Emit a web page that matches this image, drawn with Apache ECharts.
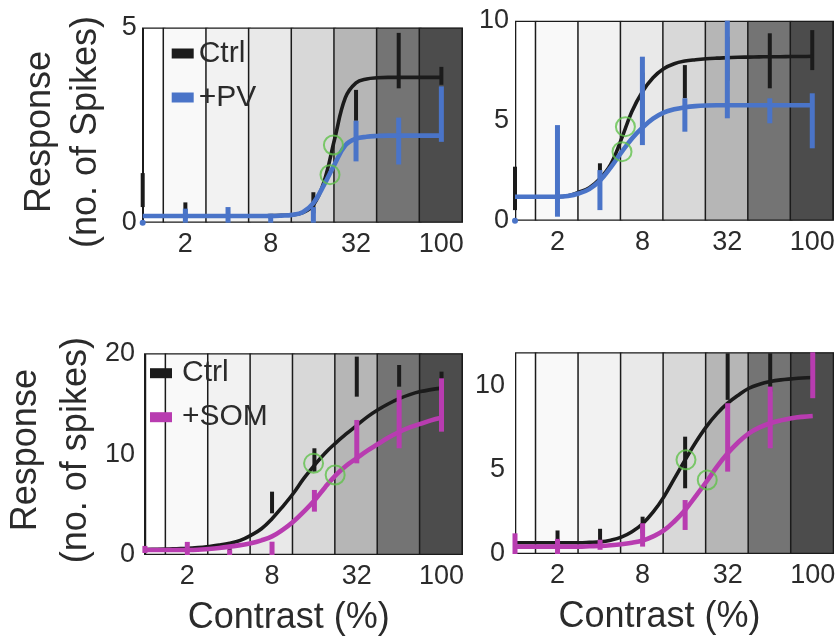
<!DOCTYPE html>
<html>
<head>
<meta charset="utf-8">
<script src="https://cdn.jsdelivr.net/npm/echarts@6/dist/echarts.min.js"></script>
<style>
html,body{margin:0;padding:0;background:#fff;}
#chart{width:840px;height:637px;}
</style>
</head>
<body>
<div id="chart"></div>
<script>
// ---- shared axis data ----
const contrastSteps = [0, 1, 2, 3, 4, 5, 6, 7];        // contrast levels (log2 steps)
const xTickPos = [1, 3, 5, 7];
const xTickText = ['2', '8', '32', '100'];
const fitX = [0, 0.25, 0.5, 0.75, 1, 1.25, 1.5, 1.75, 2, 2.25, 2.5, 2.75, 3, 3.25, 3.5, 3.75,
              4, 4.25, 4.5, 4.75, 5, 5.25, 5.5, 5.75, 6, 6.25, 6.5, 6.75, 7];

// ---- Panel A : Ctrl vs +PV (top-left) ----
const aCtrlFitY = [0.17, 0.17, 0.17, 0.17, 0.17, 0.17, 0.17, 0.17, 0.17, 0.17, 0.17, 0.17, 0.18,
                   0.19, 0.2, 0.26, 0.45, 1.05, 2.15, 3.2, 3.58, 3.68, 3.71, 3.72, 3.72, 3.72, 3.72, 3.72, 3.72];
const aPvFitY = [0.17, 0.17, 0.17, 0.17, 0.17, 0.17, 0.17, 0.17, 0.17, 0.17, 0.17, 0.17, 0.17,
                 0.18, 0.2, 0.27, 0.5, 0.97, 1.5, 1.98, 2.15, 2.2, 2.22, 2.23, 2.23, 2.23, 2.23, 2.23, 2.23];
const aCtrlLo = [0.40, 0.10, 0.10, 0.10, 0.24, 2.61, 3.44, 3.53];
const aCtrlHi = [1.27, 0.52, 0.30, 0.22, 0.78, 3.40, 4.86, 3.99];
const aPvLo = [0, 0, 0, 0, 0, 1.57, 1.49, 2.07];
const aPvHi = [0, 0.36, 0.40, 0.23, 0.40, 2.61, 2.69, 3.49];
const aC50 = [[4.47, 1.99], [4.39, 1.23]];

// ---- Panel B : Ctrl vs +PV (top-right) ----
const bCtrlFitY = [1.2, 1.2, 1.2, 1.2, 1.2, 1.25, 1.42, 1.65, 2.1, 2.8, 4.05, 5.45, 6.45, 7.15, 7.6,
                   7.85, 7.98, 8.05, 8.1, 8.13, 8.15, 8.17, 8.18, 8.19, 8.2, 8.2, 8.21, 8.21, 8.22];
const bPvFitY = [1.2, 1.2, 1.2, 1.2, 1.2, 1.24, 1.36, 1.58, 2.0, 2.65, 3.4, 4.1, 4.65, 5.1, 5.4,
                 5.57, 5.67, 5.73, 5.76, 5.77, 5.77, 5.77, 5.77, 5.77, 5.77, 5.77, 5.77, 5.77, 5.77];
const bCtrlLo = [0.53, 0.9, 1.6, 5.0, 6.12, 7.0, 6.62, 7.53];
const bCtrlHi = [2.70, 1.5, 2.87, 7.4, 7.78, 9.2, 9.37, 9.53];
const bPvLo = [0, 0.2, 0.53, 3.78, 4.45, 5.12, 4.87, 3.62];
const bPvHi = [0, 4.78, 2.53, 8.2, 6.12, 10.0, 6.12, 6.37];
const bC50 = [[2.6, 4.7], [2.52, 3.45]];

// ---- Panel C : Ctrl vs +SOM (bottom-left) ----
const cCtrlFitY = [0.55, 0.56, 0.58, 0.62, 0.66, 0.74, 0.85, 0.98, 1.16, 1.45, 1.95, 2.6, 3.6, 4.8, 6.1,
                   7.6, 8.9, 10.1, 11.1, 12.0, 12.85, 13.7, 14.4, 15.0, 15.5, 15.9, 16.2, 16.4, 16.55];
const cSomFitY = [0.5, 0.5, 0.5, 0.5, 0.5, 0.52, 0.6, 0.7, 0.83, 0.98, 1.16, 1.45, 1.85, 2.5, 3.3,
                  4.3, 5.4, 6.7, 7.9, 8.85, 9.6, 10.35, 11.0, 11.65, 12.2, 12.65, 13.0, 13.35, 13.6];
const cCtrlLo = [0.3, 0.35, 0.4, 4.13, 8.26, 15.7, 16.69, 16.8];
const cCtrlHi = [0.8, 0.8, 0.9, 6.28, 10.58, 19.67, 18.84, 18.18];
const cSomLo = [0.2, 0, 0, 0, 4.3, 9.09, 10.58, 12.23];
const cSomHi = [0.9, 1.3, 0.55, 1.32, 6.45, 13.39, 16.36, 17.52];
const cC50 = [[3.98, 9.09], [4.49, 7.93]];

// ---- Panel D : Ctrl vs +SOM (bottom-right) ----
const dCtrlFitY = [0.67, 0.67, 0.67, 0.67, 0.67, 0.67, 0.67, 0.69, 0.72, 0.82, 1.0, 1.32, 1.8, 2.5, 3.4,
                   4.5, 5.6, 6.65, 7.58, 8.35, 8.97, 9.45, 9.86, 10.1, 10.26, 10.36, 10.42, 10.47, 10.5];
const dSomFitY = [0.44, 0.44, 0.44, 0.44, 0.44, 0.44, 0.44, 0.46, 0.48, 0.52, 0.58, 0.67, 0.8, 1.05, 1.4,
                  1.95, 2.62, 3.45, 4.3, 5.2, 5.99, 6.65, 7.18, 7.53, 7.78, 7.95, 8.08, 8.16, 8.21];
const dCtrlLo = [0.4, 0.3, 0.4, 1.23, 3.91, 9.17, 9.66, 9.8];
const dCtrlHi = [0.9, 1.4, 1.5, 2.22, 6.98, 11.94, 11.94, 11.2];
const dSomLo = [0, 0, 0.25, 0.44, 1.43, 4.9, 6.29, 9.27];
const dSomHi = [1.23, 0.9, 0.85, 1.83, 3.21, 8.97, 9.96, 12.0];
const dC50 = [[4.02, 5.6], [4.52, 4.4]];

// ---- styles ----
const FONT = "'Liberation Sans', Arial, Helvetica, sans-serif";
const TEXT = '#2b2b2b';
const BLACK = '#1b1b1b';
const BLUE = '#4a74c8';
const MAGENTA = '#b83cb0';
const GREEN = '#62c24c';
const bandColors = ['#ffffff', '#f9f9f9', '#f2f2f2', '#e9e9e9', '#d8d8d8', '#b6b6b6', '#747474', '#4c4c4c'];

const panels = [
  { grid: { left: 142.7, top: 22.7, width: 320, height: 200 }, yMax: 5, yInt: 5,
    yName: 'Response\n(no. of Spikes)', nameLH: 46, nameGap: 34, namePad: [0, 14, 0, 0], labelMargin: 6,
    ctrlFit: aCtrlFitY, trFit: aPvFitY, ctrlErr: [aCtrlLo, aCtrlHi], trErr: [aPvLo, aPvHi],
    c50: aC50, trName: '+PV', trColor: BLUE, xName: '' },
  { grid: { left: 515, top: 20.7, width: 318.5, height: 200 }, yMax: 10, yInt: 5,
    yName: '', labelMargin: 6,
    ctrlFit: bCtrlFitY, trFit: bPvFitY, ctrlErr: [bCtrlLo, bCtrlHi], trErr: [bPvLo, bPvHi],
    c50: bC50, trName: '+PV', trColor: BLUE, xName: '' },
  { grid: { left: 142.7, top: 353.3, width: 320, height: 201.7 }, yMax: 20, yInt: 10,
    yName: 'Response\n(no. of spikes)', nameLH: 50, nameGap: 43, namePad: [0, 0, 0, 8], labelMargin: 10,
    ctrlFit: cCtrlFitY, trFit: cSomFitY, ctrlErr: [cCtrlLo, cCtrlHi], trErr: [cSomLo, cSomHi],
    c50: cC50, trName: '+SOM', trColor: MAGENTA, xName: 'Contrast (%)' },
  { grid: { left: 515, top: 352.3, width: 319, height: 201.7 }, yMax: 12, yInt: 5,
    yName: '', labelMargin: 10,
    ctrlFit: dCtrlFitY, trFit: dSomFitY, ctrlErr: [dCtrlLo, dCtrlHi], trErr: [dSomLo, dSomHi],
    c50: dC50, trName: '+SOM', trColor: MAGENTA, xName: 'Contrast (%)' }
];

function zip(xs, ys) { return xs.map((x, i) => [x, ys[i]]); }
function errData(lo, hi) { return contrastSteps.map((x, i) => [x, lo[i], hi[i]]); }

function bandRender(params, api) {
  const k = api.value(0);
  const cs = params.coordSys;
  const a = api.coord([k - 0.5, 0]);
  const b = api.coord([k + 0.5, 0]);
  const x1 = Math.max(a[0], cs.x), x2 = Math.min(b[0], cs.x + cs.width);
  const children = [{
    type: 'rect', shape: { x: x1, y: cs.y, width: x2 - x1, height: cs.height },
    style: { fill: bandColors[k] }
  }];
  if (k < contrastSteps.length - 1) {
    children.push({ type: 'line', shape: { x1: b[0], y1: cs.y, x2: b[0], y2: cs.y + cs.height },
      style: { stroke: BLACK, lineWidth: 3 } });
  } else {
    children.push({ type: 'rect', shape: { x: cs.x, y: cs.y, width: cs.width, height: cs.height },
      style: { fill: null, stroke: BLACK, lineWidth: 2.6 }, z2: 10 });
  }
  return { type: 'group', children: children };
}

function errRender(color, width) {
  return function (params, api) {
    const x = api.value(0), lo = api.value(1), hi = api.value(2);
    const p1 = api.coord([x, lo]), p2 = api.coord([x, hi]);
    if (lo === hi) {
      return { type: 'circle', shape: { cx: p1[0], cy: p1[1], r: width * 0.6 }, style: { fill: color } };
    }
    return { type: 'line', shape: { x1: p1[0], y1: p1[1], x2: p2[0], y2: p2[1] },
      style: { stroke: color, lineWidth: width } };
  };
}

const grids = [], xAxes = [], yAxes = [], series = [];
panels.forEach((p, i) => {
  grids.push(Object.assign({ containLabel: false }, p.grid));
  xAxes.push({
    gridIndex: i, type: 'value', min: 0, max: 7.5, interval: 1,
    axisLine: { show: false }, axisTick: { show: false }, splitLine: { show: false },
    axisLabel: {
      margin: 8, fontSize: 27, color: TEXT, fontFamily: FONT,
      formatter: v => { const j = xTickPos.indexOf(v); return j >= 0 ? xTickText[j] : ''; }
    },
    name: p.xName, nameLocation: 'middle', nameGap: 45,
    nameTextStyle: { fontSize: 36, color: TEXT, fontFamily: FONT, padding: [0, 30, 0, 0] }
  });
  yAxes.push({
    gridIndex: i, type: 'value', min: 0, max: p.yMax, interval: p.yInt,
    axisLine: { show: false }, axisTick: { show: false }, splitLine: { show: false },
    axisLabel: {
      margin: p.labelMargin, fontSize: 27, color: TEXT, fontFamily: FONT, padding: [10, 0, 0, 0],
      formatter: v => (Math.abs(v % p.yInt) < 1e-9 ? String(v) : '')
    },
    name: p.yName, nameLocation: 'middle', nameGap: p.nameGap || 0, nameRotate: 90,
    nameTextStyle: { fontSize: 36, color: TEXT, fontFamily: FONT, lineHeight: p.nameLH || 40,
      align: 'center', padding: p.namePad || 0 }
  });
  // background bands
  series.push({ type: 'custom', xAxisIndex: i, yAxisIndex: i, renderItem: bandRender,
    data: contrastSteps.map(k => [k]), encode: { x: 0 }, silent: true, z: 1, clip: true });
  // control error bars
  series.push({ type: 'custom', name: 'Ctrl SEM', xAxisIndex: i, yAxisIndex: i, renderItem: errRender(BLACK, 4),
    data: errData(p.ctrlErr[0], p.ctrlErr[1]), encode: { x: 0, y: [1, 2] }, z: 3, clip: false, silent: true });
  // control fit
  series.push({ type: 'line', name: 'Ctrl', xAxisIndex: i, yAxisIndex: i, data: zip(fitX, p.ctrlFit),
    smooth: 0.4, showSymbol: false, symbol: 'none', z: 4, silent: true,
    lineStyle: { color: BLACK, width: 3.6 }, itemStyle: { color: BLACK } });
  // treatment error bars
  series.push({ type: 'custom', name: p.trName + ' SEM', xAxisIndex: i, yAxisIndex: i, renderItem: errRender(p.trColor, 5),
    data: errData(p.trErr[0], p.trErr[1]), encode: { x: 0, y: [1, 2] }, z: 5, clip: false, silent: true });
  // treatment fit
  series.push({ type: 'line', name: p.trName, xAxisIndex: i, yAxisIndex: i, data: zip(fitX, p.trFit),
    smooth: 0.4, showSymbol: false, symbol: 'none', z: 6, silent: true,
    lineStyle: { color: p.trColor, width: 4.6 }, itemStyle: { color: p.trColor } });
  // c50 markers
  series.push({ type: 'scatter', name: 'C50', xAxisIndex: i, yAxisIndex: i, data: p.c50, symbol: 'circle',
    symbolSize: 19, z: 7, silent: true,
    itemStyle: { color: 'rgba(0,0,0,0)', borderColor: GREEN, borderWidth: 2 } });
});

const legendText = { fontSize: 30, lineHeight: 29, color: TEXT, fontFamily: FONT };
const option = {
  animation: false,
  backgroundColor: '#ffffff',
  grid: grids, xAxis: xAxes, yAxis: yAxes, series: series,
  legend: [
    { orient: 'vertical', left: 171.7, top: 38.5, itemWidth: 22, itemHeight: 10, itemGap: 14, padding: 0,
      icon: 'rect', selectedMode: false, textStyle: legendText,
      data: [{ name: 'Ctrl', itemStyle: { color: BLACK } }, { name: '+PV', itemStyle: { color: BLUE } }] },
    { orient: 'vertical', left: 150, top: 358.2, itemWidth: 22, itemHeight: 10, itemGap: 14, padding: 0,
      icon: 'rect', selectedMode: false, textStyle: Object.assign({}, legendText, { padding: [0, 0, 0, 5] }),
      data: [{ name: 'Ctrl', itemStyle: { color: BLACK } }, { name: '+SOM', itemStyle: { color: MAGENTA } }] }
  ]
};

const chart = echarts.init(document.getElementById('chart'), null, { renderer: 'canvas' });
chart.setOption(option);
</script>
</body>
</html>
